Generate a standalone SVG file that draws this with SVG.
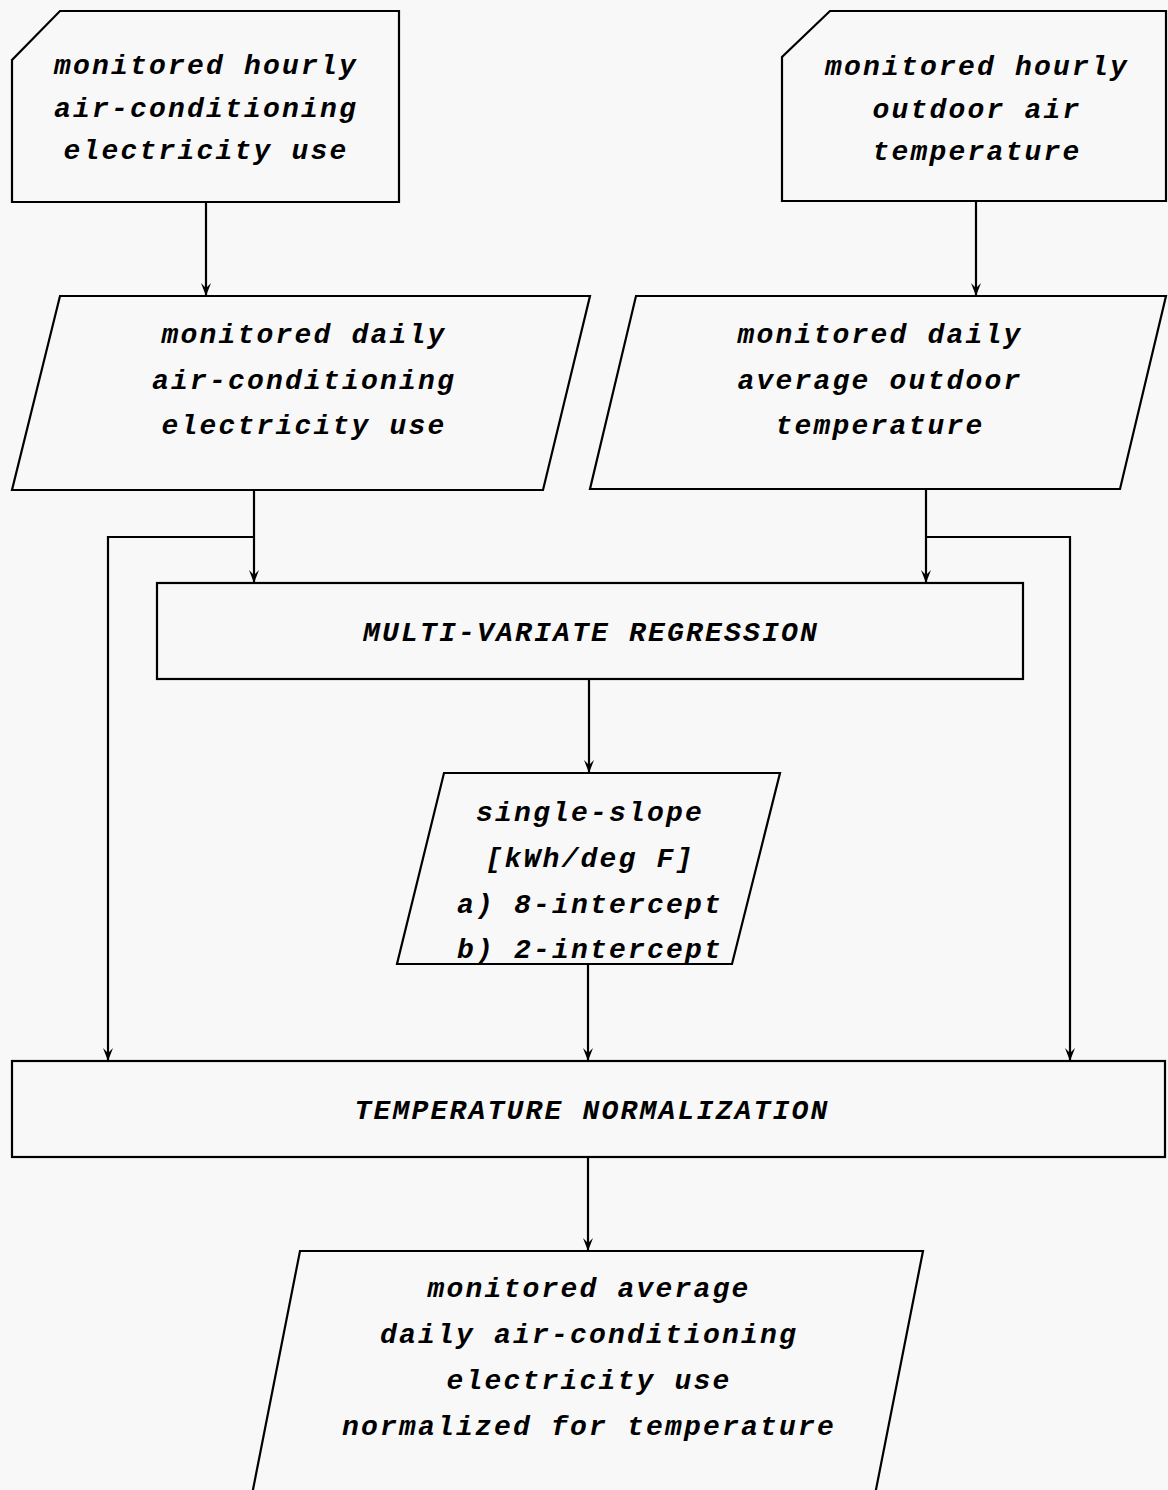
<svg xmlns="http://www.w3.org/2000/svg" width="1168" height="1490" viewBox="0 0 1168 1490">
<style>
  .shape { fill: #f8f8f8; stroke: #000; stroke-width: 2.2; stroke-linejoin: miter; }
  .conn { fill: none; stroke: #000; stroke-width: 2.2; }
  .t { font-family: "Liberation Mono", "DejaVu Sans Mono", monospace; font-weight: bold; font-style: italic; font-size: 28px; letter-spacing: 2.2px; text-anchor: middle; fill: #000; }
</style>
<defs>
  <marker id="arr" markerUnits="userSpaceOnUse" markerWidth="16" markerHeight="14" viewBox="-15 -7 16 14" refX="0" refY="0" orient="auto">
    <path d="M0,0 L-13,-5 L-8,0 L-13,5 Z" fill="#000"/>
  </marker>
</defs>
<rect x="0" y="0" width="1168" height="1490" fill="#f8f8f8"/>

<g id="connectors">
  <line class="conn" x1="206" y1="202" x2="206" y2="296" marker-end="url(#arr)"/>
  <line class="conn" x1="976" y1="201" x2="976" y2="296" marker-end="url(#arr)"/>
  <line class="conn" x1="254" y1="490" x2="254" y2="583" marker-end="url(#arr)"/>
  <polyline class="conn" points="254,537 108,537 108,1061" marker-end="url(#arr)"/>
  <line class="conn" x1="926" y1="489" x2="926" y2="583" marker-end="url(#arr)"/>
  <polyline class="conn" points="926,537 1070,537 1070,1061" marker-end="url(#arr)"/>
  <line class="conn" x1="589" y1="679" x2="589" y2="773" marker-end="url(#arr)"/>
  <line class="conn" x1="588" y1="964" x2="588" y2="1061" marker-end="url(#arr)"/>
  <line class="conn" x1="588" y1="1157" x2="588" y2="1251" marker-end="url(#arr)"/>
</g>

<g id="hourly-ac">
  <path class="shape" d="M60,11 L399,11 L399,202 L12,202 L12,60 Z"/>
  <text class="t" x="206" y="74">monitored hourly</text>
  <text class="t" x="206" y="117">air-conditioning</text>
  <text class="t" x="206" y="159">electricity use</text>
</g>

<g id="hourly-temp">
  <path class="shape" d="M830,11 L1166,11 L1166,201 L782,201 L782,57 Z"/>
  <text class="t" x="977" y="75">monitored hourly</text>
  <text class="t" x="977" y="118">outdoor air</text>
  <text class="t" x="977" y="160">temperature</text>
</g>

<g id="daily-ac">
  <path class="shape" d="M60,296 L590,296 L543,490 L12,490 Z"/>
  <text class="t" x="304" y="343">monitored daily</text>
  <text class="t" x="304" y="389">air-conditioning</text>
  <text class="t" x="304" y="434">electricity use</text>
</g>

<g id="daily-temp">
  <path class="shape" d="M636,296 L1166,296 L1120,489 L590,489 Z"/>
  <text class="t" x="880" y="343">monitored daily</text>
  <text class="t" x="880" y="389">average outdoor</text>
  <text class="t" x="880" y="434">temperature</text>
</g>

<g id="regression">
  <rect class="shape" x="157" y="583" width="866" height="96"/>
  <text class="t" x="591" y="641">MULTI-VARIATE REGRESSION</text>
</g>

<g id="slope">
  <path class="shape" d="M444,773 L780,773 L732,964 L397,964 Z"/>
  <text class="t" x="590" y="821">single-slope</text>
  <text class="t" x="590" y="867">[kWh/deg F]</text>
  <text class="t" x="590" y="913">a) 8-intercept</text>
  <text class="t" x="590" y="958">b) 2-intercept</text>
</g>

<g id="normalization">
  <rect class="shape" x="12" y="1061" width="1153" height="96"/>
  <text class="t" x="592" y="1119">TEMPERATURE NORMALIZATION</text>
</g>

<g id="normalized-output">
  <path class="shape" d="M300,1251 L923,1251 L870,1520 L247,1520 Z"/>
  <text class="t" x="589" y="1297">monitored average</text>
  <text class="t" x="589" y="1343">daily air-conditioning</text>
  <text class="t" x="589" y="1389">electricity use</text>
  <text class="t" x="589" y="1435">normalized for temperature</text>
</g>
</svg>
